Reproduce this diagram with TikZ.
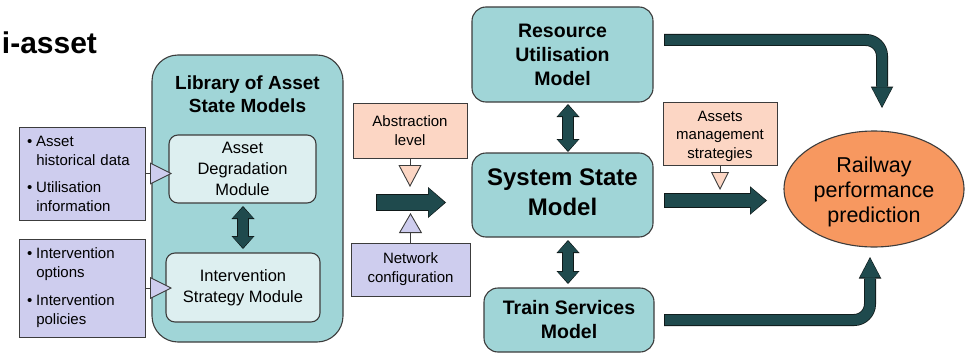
\documentclass[tikz,border=0pt]{standalone}
\usepackage{fontspec}
\setmainfont{Liberation Sans}
\usetikzlibrary{arrows.meta,shapes.geometric}
\definecolor{tealbox}{RGB}{160,213,215}
\definecolor{lightbox}{RGB}{221,239,240}
\definecolor{lav}{RGB}{206,205,238}
\definecolor{peach}{RGB}{252,214,196}
\definecolor{orng}{RGB}{247,152,96}
\definecolor{darkteal}{RGB}{31,74,77}
\definecolor{edge}{RGB}{60,60,60}
\definecolor{arrowedge}{RGB}{15,25,25}
\newcommand{\fsz}[2]{\fontsize{#1}{#2}\selectfont}
\tikzset{
  vO/.tip={Triangle[width=23pt,length=13pt,line width=0pt]},
  vI/.tip={Triangle[width=20.5pt,length=11pt,line width=0pt]},
  mO/.tip={Triangle[width=31pt,length=18pt,line width=0pt]},
  mI/.tip={Triangle[width=28.5pt,length=16pt,line width=0pt]},
  rO/.tip={Triangle[width=28.5pt,length=17pt,line width=0pt]},
  rI/.tip={Triangle[width=26pt,length=15pt,line width=0pt]},
  bO/.tip={Triangle[width=22.5pt,length=21.5pt,line width=0pt]},
  bI/.tip={Triangle[width=20pt,length=19pt,line width=0pt]},
}
\begin{document}
\begin{tikzpicture}[x=1pt,y=-1pt,
  every node/.style={inner sep=0pt, outer sep=0pt},
  libbox/.style={draw=edge, line width=1.1pt, fill=tealbox, rounded corners=26pt},
  module/.style={draw=edge, line width=1.1pt, fill=lightbox, rounded corners=9pt, align=center, font=\fsz{16.5}{21}},
  model/.style={draw=edge, line width=1.1pt, fill=tealbox, rounded corners=14pt, align=center, font=\bfseries\fsz{19.5}{24}},
  inbox/.style={draw=edge, line width=1pt, fill=lav, align=left, font=\fsz{15}{19}},
  param/.style={draw=edge, line width=1pt, align=center, font=\fsz{15}{19}},
  tri/.style={draw=edge, line width=0.9pt},
  outerA/.style={draw=arrowedge, line width=#1},
  innerA/.style={draw=darkteal, line width=#1},
]
\useasboundingbox (0,0) rectangle (965,361);

% heading fragment
\node[font=\bfseries\fsz{30}{36}, anchor=base east] (head) at (97,53) {i-asset};

% library
\node[libbox, minimum width=191pt, minimum height=287pt] (lib) at (247.5,198.5) {};
\node[font=\bfseries\fsz{19}{23}, align=center] (libt) at (247.5,94) {Library of Asset\\State Models};
\node[module, minimum width=147pt, minimum height=68pt] (adm) at (242.5,169) {Asset\\Degradation\\Module};
\node[module, minimum width=154pt, minimum height=69pt] (ism) at (243,287.5) {Intervention\\Strategy Module};

% input boxes
\node[inbox, minimum width=126pt, minimum height=93pt, text width=110pt] (in1) at (82,173.5)
  {\raisebox{0pt}[\dimexpr\height+4pt\relax][\depth]{\begin{tabular}{@{}l@{\hspace{4pt}}l@{}}•&Asset\\&historical data\\[8pt]•&Utilisation\\&information\end{tabular}}};
\node[inbox, minimum width=126pt, minimum height=98pt, text width=110pt] (in2) at (82,288)
  {\begin{tabular}{@{}l@{\hspace{4pt}}l@{}}•&Intervention\\&options\\[9pt]•&Intervention\\&policies\end{tabular}};

% parameter boxes
\node[param, fill=peach, minimum width=114pt, minimum height=55pt] (abs) at (410,130.5) {Abstraction\\level};
\node[param, fill=lav, minimum width=119pt, minimum height=53pt] (net) at (410.5,269.5) {Network\\configuration};
\node[param, fill=peach, minimum width=114pt, minimum height=63pt, font=\fsz{15}{18.5}] (ams) at (720,133.5) {\rule{0pt}{16pt}Assets\\management\\strategies};

% models
\node[model, minimum width=181pt, minimum height=95pt] (rum) at (562.5,54.5) {Resource\\Utilisation\\Model};
\node[model, minimum width=181pt, minimum height=84pt, font=\bfseries\fsz{24}{30}] (ssm) at (562.5,195) {System State\\Model\rule[-6pt]{0pt}{6pt}};
\node[model, minimum width=170pt, minimum height=64pt] (tsm) at (569,320) {Train Services\\Model};

% output
\node[ellipse, draw=edge, line width=1.1pt, fill=orng, minimum width=180pt, minimum height=116pt, align=center, font=\fsz{21.5}{25}] (rpp) at (874,189) {\rule{0pt}{22pt}Railway\\performance\\prediction};

% small triangle connectors
\draw[tri, -{Triangle[width=22pt,length=22pt,fill=lav]}] (in1.east) -- ++(27,0);
\draw[tri, -{Triangle[width=22pt,length=22pt,fill=lav]}] (in2.east) -- ++(27,0);
\draw[tri, -{Triangle[width=23pt,length=22pt,fill=peach]}] (abs.south) -- ++(0,29);
\draw[tri, -{Triangle[width=23pt,length=20pt,fill=lav]}] (net.north) -- ++(0,-30);
\draw[tri, -{Triangle[width=18pt,length=18pt,fill=peach]}] (ams.south) -- ++(0,25);

% coordinates for fat arrows
\coordinate (la1) at (243,206);
\coordinate (la2) at (243,249);
\coordinate (ua1) at (568,104);
\coordinate (ua2) at (568,152);
\coordinate (da1) at (568,240);
\coordinate (da2) at (568,284);
\coordinate (m1s) at (377,202.5);
\coordinate (m1e) at (446,202.5);
\coordinate (m2s) at (665,200.5);
\coordinate (m2e) at (767,200.5);
\coordinate (t1s) at (665,40);
\coordinate (t1e) at (882,108);
\coordinate (b1s) at (665,320);
\coordinate (b1e) at (870,257);

% vertical double arrows
\foreach \p/\q in {la1/la2, ua1/ua2, da1/da2}{
  \draw[outerA=11.6pt, {vO}-{vO}] (\p) -- (\q);
  \draw[innerA=10pt, shorten <=1.2pt, shorten >=1.2pt, {vI}-{vI}] (\p) -- (\q);
}

% horizontal arrows
\draw[outerA=16.6pt, shorten <=-0.8pt, -{mO}] (m1s) -- (m1e);
\draw[innerA=15pt, shorten >=1.3pt, -{mI}] (m1s) -- (m1e);
\draw[outerA=14.6pt, shorten <=-0.8pt, -{rO}] (m2s) -- (m2e);
\draw[innerA=13pt, shorten >=1.3pt, -{rI}] (m2s) -- (m2e);

% bent arrows
\draw[outerA=12pt, rounded corners=16pt, shorten <=-0.8pt, -{bO}] (t1s) -| (t1e);
\draw[innerA=10.4pt, rounded corners=16pt, shorten >=1.3pt, -{bI}] (t1s) -| (t1e);
\draw[outerA=12pt, rounded corners=16pt, shorten <=-0.8pt, -{bO}] (b1s) -| (b1e);
\draw[innerA=10.4pt, rounded corners=16pt, shorten >=1.3pt, -{bI}] (b1s) -| (b1e);
\end{tikzpicture}
\end{document}
